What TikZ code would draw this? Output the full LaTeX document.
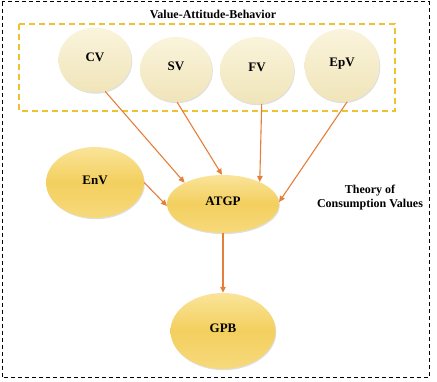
\documentclass[tikz,border=0pt]{standalone}
\usepackage{fontspec}
\setmainfont{Liberation Serif}
\usetikzlibrary{shapes.geometric,arrows.meta,shadows}
\definecolor{creamlt}{HTML}{FAF4DC}
\definecolor{creamdk}{HTML}{EDE0B0}
\definecolor{goldlt}{HTML}{FAE49A}
\definecolor{golddk}{HTML}{F3CF5E}
\definecolor{arrorange}{HTML}{E67E3B}
\definecolor{boxyellow}{HTML}{EFC232}
\begin{document}
\begin{tikzpicture}[
  x=1pt, y=-1pt,
  >={Triangle[length=6pt,width=5.5pt]},
  valnode/.style={ellipse, draw=none, top color=creamlt, bottom color=creamdk!80!creamlt, middle color=creamlt!60!creamdk,
    drop shadow={opacity=0.25, shadow xshift=0.8pt, shadow yshift=-1.2pt}, font={\fontsize{13}{15}\selectfont\bfseries}, inner sep=0pt},
  keynode/.style={ellipse, draw=none, top color=goldlt, bottom color=goldlt!50!golddk, middle color=golddk,
    drop shadow={opacity=0.25, shadow xshift=0.8pt, shadow yshift=-1.2pt}, font={\fontsize{13}{15}\selectfont\bfseries}, inner sep=0pt},
  valedge/.style={->, draw=arrorange, line width=1.1pt},
  framelbl/.style={font={\fontsize{12}{14}\selectfont\bfseries}, align=center}
]
\useasboundingbox (0,0) rectangle (437,381);
\draw[black, line width=1pt, dash pattern=on 4pt off 3pt] (2,1.5) rectangle (429,377.5);
\draw[boxyellow, line width=1.6pt, dash pattern=on 6pt off 4pt] (19,24) rectangle (395,111);
\node[framelbl] (vab) at (213,14) {Value-Attitude-Behavior};
\node[framelbl] (tcv) at (370,198) {Theory of\\Consumption Values};
\node[valnode, minimum width=73pt, minimum height=65pt] (cv) at (95,60) {\raisebox{6pt}{CV}};
\node[valnode, minimum width=72pt, minimum height=65pt] (sv) at (176,69.5) {\raisebox{6pt}{SV}};
\node[valnode, minimum width=74pt, minimum height=67pt] (fv) at (257,70.5) {\raisebox{6pt}{FV}};
\node[valnode, minimum width=75pt, minimum height=73pt] (epv) at (342,65.5) {\raisebox{6pt}{EpV}};
\node[keynode, minimum width=98pt, minimum height=71pt] (env) at (95,182.5) {\raisebox{5pt}{EnV}};
\node[keynode, minimum width=112pt, minimum height=58pt] (atgp) at (223,204) {\raisebox{5pt}{ATGP}};
\node[keynode, minimum width=105pt, minimum height=76pt] (gpb) at (223,331) {\raisebox{5pt}{GPB}};
\draw[valedge] (cv.-72) -- (atgp.151);
\draw[valedge] (sv.-88) -- (atgp.92);
\draw[valedge] (fv.-82) -- (atgp.31);
\draw[valedge] (epv.-82) -- (atgp.2);
\draw[valedge] (env.0) -- (atgp.182);
\draw[valedge] (atgp.south) -- (gpb.north);
\end{tikzpicture}
\end{document}
